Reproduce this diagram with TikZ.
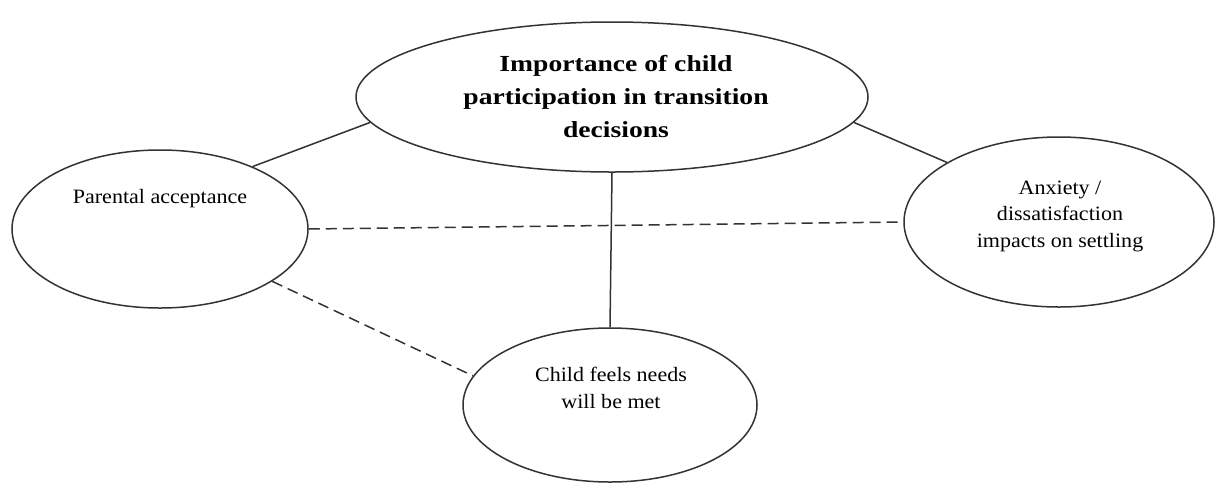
\documentclass[tikz,border=0pt]{standalone}
\usepackage{fontspec}
\setmainfont{Liberation Serif}
\newfontfamily\headfont[FakeStretch=1.2]{Liberation Serif}
\newfontfamily\bodyfont[FakeStretch=1.08]{Liberation Serif}
\usetikzlibrary{shapes.geometric}
\begin{document}
\begin{tikzpicture}[x=1pt,y=-1pt,
  bubble/.style={draw=black!80, line width=1.5pt, ellipse, inner sep=0pt},
  link/.style={draw=black!80, line width=1.5pt},
  dashedlink/.style={link, dash pattern=on 11pt off 6pt},
  label/.style={align=center, inner sep=0pt, anchor=base,
    font=\bodyfont\fontsize{20.4}{26.5}\selectfont},
  headline/.style={align=center, inner sep=0pt, anchor=base,
    font=\headfont\bfseries\fontsize{23}{33}\selectfont}]
\fill[white] (0,0) rectangle (1217,483);
\useasboundingbox (0,0) rectangle (1217,483);

% ellipses
\node[bubble, minimum width=512pt, minimum height=150pt] (top) at (612,97) {};
\node[bubble, minimum width=296pt, minimum height=158pt] (left) at (160,229) {};
\node[bubble, minimum width=310pt, minimum height=170pt] (right) at (1059,222) {};
\node[bubble, minimum width=294pt, minimum height=154pt] (bottom) at (610,405) {};

% texts (anchored at the baseline of the last line)
\node[headline] (ttop) at (616,137) {Importance of child\\participation in transition\\decisions};
\node[label] (tleft) at (160,203) {Parental acceptance};
\node[label] (tright) at (1060,247) {Anxiety /\\dissatisfaction\\impacts on settling};
\node[label] (tbottom) at (611,408) {Child feels needs\\will be met};

% solid links
\draw[link] (top.186) -- (left.34);
\draw[link] (top.354) -- (right.152);
\draw[link] (top.south) -- (bottom.north);

% dashed links
\draw[dashedlink] (left.east) -- (right.west);
\draw[dashedlink] (left.335) -- (bottom.168);
\end{tikzpicture}
\end{document}
